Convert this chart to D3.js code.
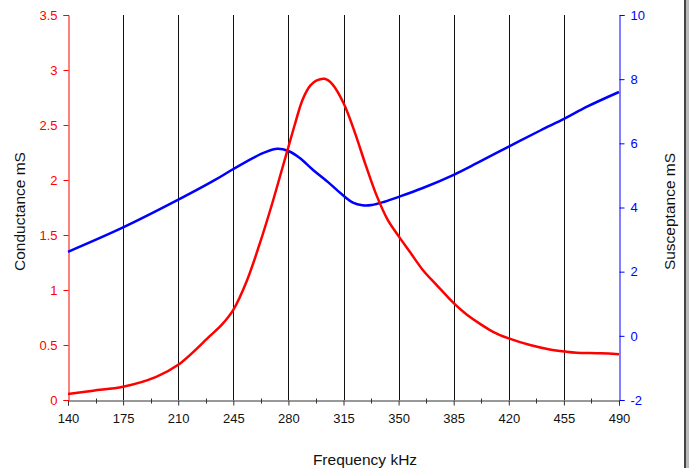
<!DOCTYPE html>
<html>
<head>
<meta charset="utf-8">
<script src="https://cdn.jsdelivr.net/npm/d3@7"></script>
<style>
  body { margin: 0; background: #fff; }
  text { font-family: "Liberation Sans", Arial, sans-serif; }
</style>
</head>
<body>
<svg id="chart"></svg>
<script>
// frequency ticks (kHz)
const freqTicks = [140, 175, 210, 245, 280, 315, 350, 385, 420, 455, 490];
const condTicks = [0, 0.5, 1, 1.5, 2, 2.5, 3, 3.5];
const suscTicks = [-2, 0, 2, 4, 6, 8, 10];

// conductance (red)
const condFreq = [140, 156, 175, 196, 210, 230, 238, 245, 253.5, 262, 270, 276, 280, 284, 289, 294, 298, 303, 308, 315, 322, 329, 336, 343, 350, 357, 365.5, 374.2, 385, 393, 402, 410, 420, 433.5, 446, 456, 463, 476, 486, 490];
const condVals = [0.055, 0.085, 0.12, 0.21, 0.32, 0.58, 0.69, 0.82, 1.08, 1.43, 1.80, 2.10, 2.30, 2.50, 2.73, 2.86, 2.905, 2.92, 2.87, 2.70, 2.44, 2.14, 1.86, 1.64, 1.49, 1.35, 1.18, 1.045, 0.88, 0.78, 0.69, 0.62, 0.56, 0.50, 0.46, 0.44, 0.43, 0.425, 0.42, 0.415];

// susceptance (blue)
const suscFreq = [140, 175, 210.7, 233.4, 245, 257.7, 265, 273, 280, 287, 295, 305, 313, 321, 327, 333, 341, 350, 365, 385, 400, 420, 440, 455, 470, 490];
const suscVals = [2.62, 3.38, 4.26, 4.86, 5.20, 5.55, 5.72, 5.83, 5.76, 5.55, 5.20, 4.80, 4.45, 4.15, 4.07, 4.08, 4.18, 4.33, 4.60, 5.02, 5.39, 5.90, 6.40, 6.76, 7.15, 7.60];

const width = 689, height = 468;
const margin = { left: 68, right: 70, top: 15, bottom: 68 };

const svg = d3.select("#chart")
    .attr("width", width)
    .attr("height", height);

const xScale = d3.scaleLinear()
    .domain([140, 490])
    .range([margin.left, width - margin.right]);
const yLeft = d3.scaleLinear()
    .domain([0, 3.5])
    .range([height - margin.bottom, margin.top]);
const yRight = d3.scaleLinear()
    .domain([-2, 10])
    .range([height - margin.bottom, margin.top]);

const plotBottom = height - margin.bottom;

// vertical grid lines
svg.append("g")
    .selectAll("line")
    .data(freqTicks.slice(1, -1))
    .join("line")
    .attr("x1", d => Math.round(xScale(d)) + 0.5)
    .attr("x2", d => Math.round(xScale(d)) + 0.5)
    .attr("y1", margin.top)
    .attr("y2", plotBottom)
    .attr("stroke", "#111")
    .attr("stroke-width", 1);

// x axis
const minorTicks = freqTicks.slice(0, -1).map(d => d + 17.5);
const xAxis = svg.append("g")
    .attr("transform", "translate(0," + (plotBottom + 0.5) + ")");
xAxis.call(d3.axisBottom(xScale).tickValues(freqTicks).tickSize(5).tickPadding(8).tickFormat(d3.format("d")));
xAxis.select(".domain").attr("stroke", "#333");
xAxis.selectAll(".tick line").attr("stroke", "#333");
xAxis.selectAll(".tick text").attr("fill", "#111").style("font-size", "13px").style("font-family", "Liberation Sans, Arial, sans-serif");
xAxis.selectAll(".minor")
    .data(minorTicks)
    .join("line")
    .attr("class", "minor")
    .attr("x1", d => Math.round(xScale(d)) + 0.5)
    .attr("x2", d => Math.round(xScale(d)) + 0.5)
    .attr("y1", -2)
    .attr("y2", 3)
    .attr("stroke", "#333");

// left axis (conductance)
const leftAxis = svg.append("g")
    .attr("transform", "translate(" + (margin.left + 0.5) + ",0)");
leftAxis.call(d3.axisLeft(yLeft).tickValues(condTicks).tickSize(5).tickPadding(6).tickFormat(d => String(d)));
leftAxis.select(".domain").attr("stroke", "#ff0000");
leftAxis.selectAll(".tick line").attr("stroke", "#ff0000");
leftAxis.selectAll(".tick text").attr("fill", "#ff0000").style("font-size", "13px").style("font-family", "Liberation Sans, Arial, sans-serif");

// right axis (susceptance)
const rightAxis = svg.append("g")
    .attr("transform", "translate(" + (width - margin.right + 0.5) + ",0)");
rightAxis.call(d3.axisRight(yRight).tickValues(suscTicks).tickSize(5).tickPadding(6).tickFormat(d => String(d)));
rightAxis.select(".domain").attr("stroke", "#0000ff");
rightAxis.selectAll(".tick line").attr("stroke", "#0000ff");
rightAxis.selectAll(".tick text").attr("fill", "#0000ff").style("font-size", "13px").style("font-family", "Liberation Sans, Arial, sans-serif");

// series
const condLine = d3.line()
    .x((d, i) => xScale(condFreq[i]))
    .y(d => yLeft(d))
    .curve(d3.curveCatmullRom.alpha(0.5));
const suscLine = d3.line()
    .x((d, i) => xScale(suscFreq[i]))
    .y(d => yRight(d))
    .curve(d3.curveCatmullRom.alpha(0.5));

svg.append("path")
    .attr("d", suscLine(suscVals))
    .attr("fill", "none")
    .attr("stroke", "#0000ff")
    .attr("stroke-width", 2.5);

svg.append("path")
    .attr("d", condLine(condVals))
    .attr("fill", "none")
    .attr("stroke", "#ff0000")
    .attr("stroke-width", 2.5);

// axis titles
svg.append("text")
    .text("Conductance mS")
    .attr("transform", "translate(25," + ((margin.top + plotBottom) / 2 + 4) + ") rotate(-90)")
    .attr("text-anchor", "middle")
    .attr("fill", "#111")
    .style("font-size", "15.5px");

svg.append("text")
    .text("Susceptance mS")
    .attr("transform", "translate(675," + ((margin.top + plotBottom) / 2 + 4) + ") rotate(-90)")
    .attr("text-anchor", "middle")
    .attr("fill", "#111")
    .style("font-size", "15.5px");

svg.append("text")
    .text("Frequency kHz")
    .attr("x", 365)
    .attr("y", 465)
    .attr("text-anchor", "middle")
    .attr("fill", "#111")
    .style("font-size", "15.5px");

// window edge on the right
svg.append("rect").attr("x", 684).attr("y", 0).attr("width", 2).attr("height", height).attr("fill", "#444");
svg.append("rect").attr("x", 686).attr("y", 0).attr("width", 3).attr("height", height).attr("fill", "#bbb");
</script>
</body>
</html>
